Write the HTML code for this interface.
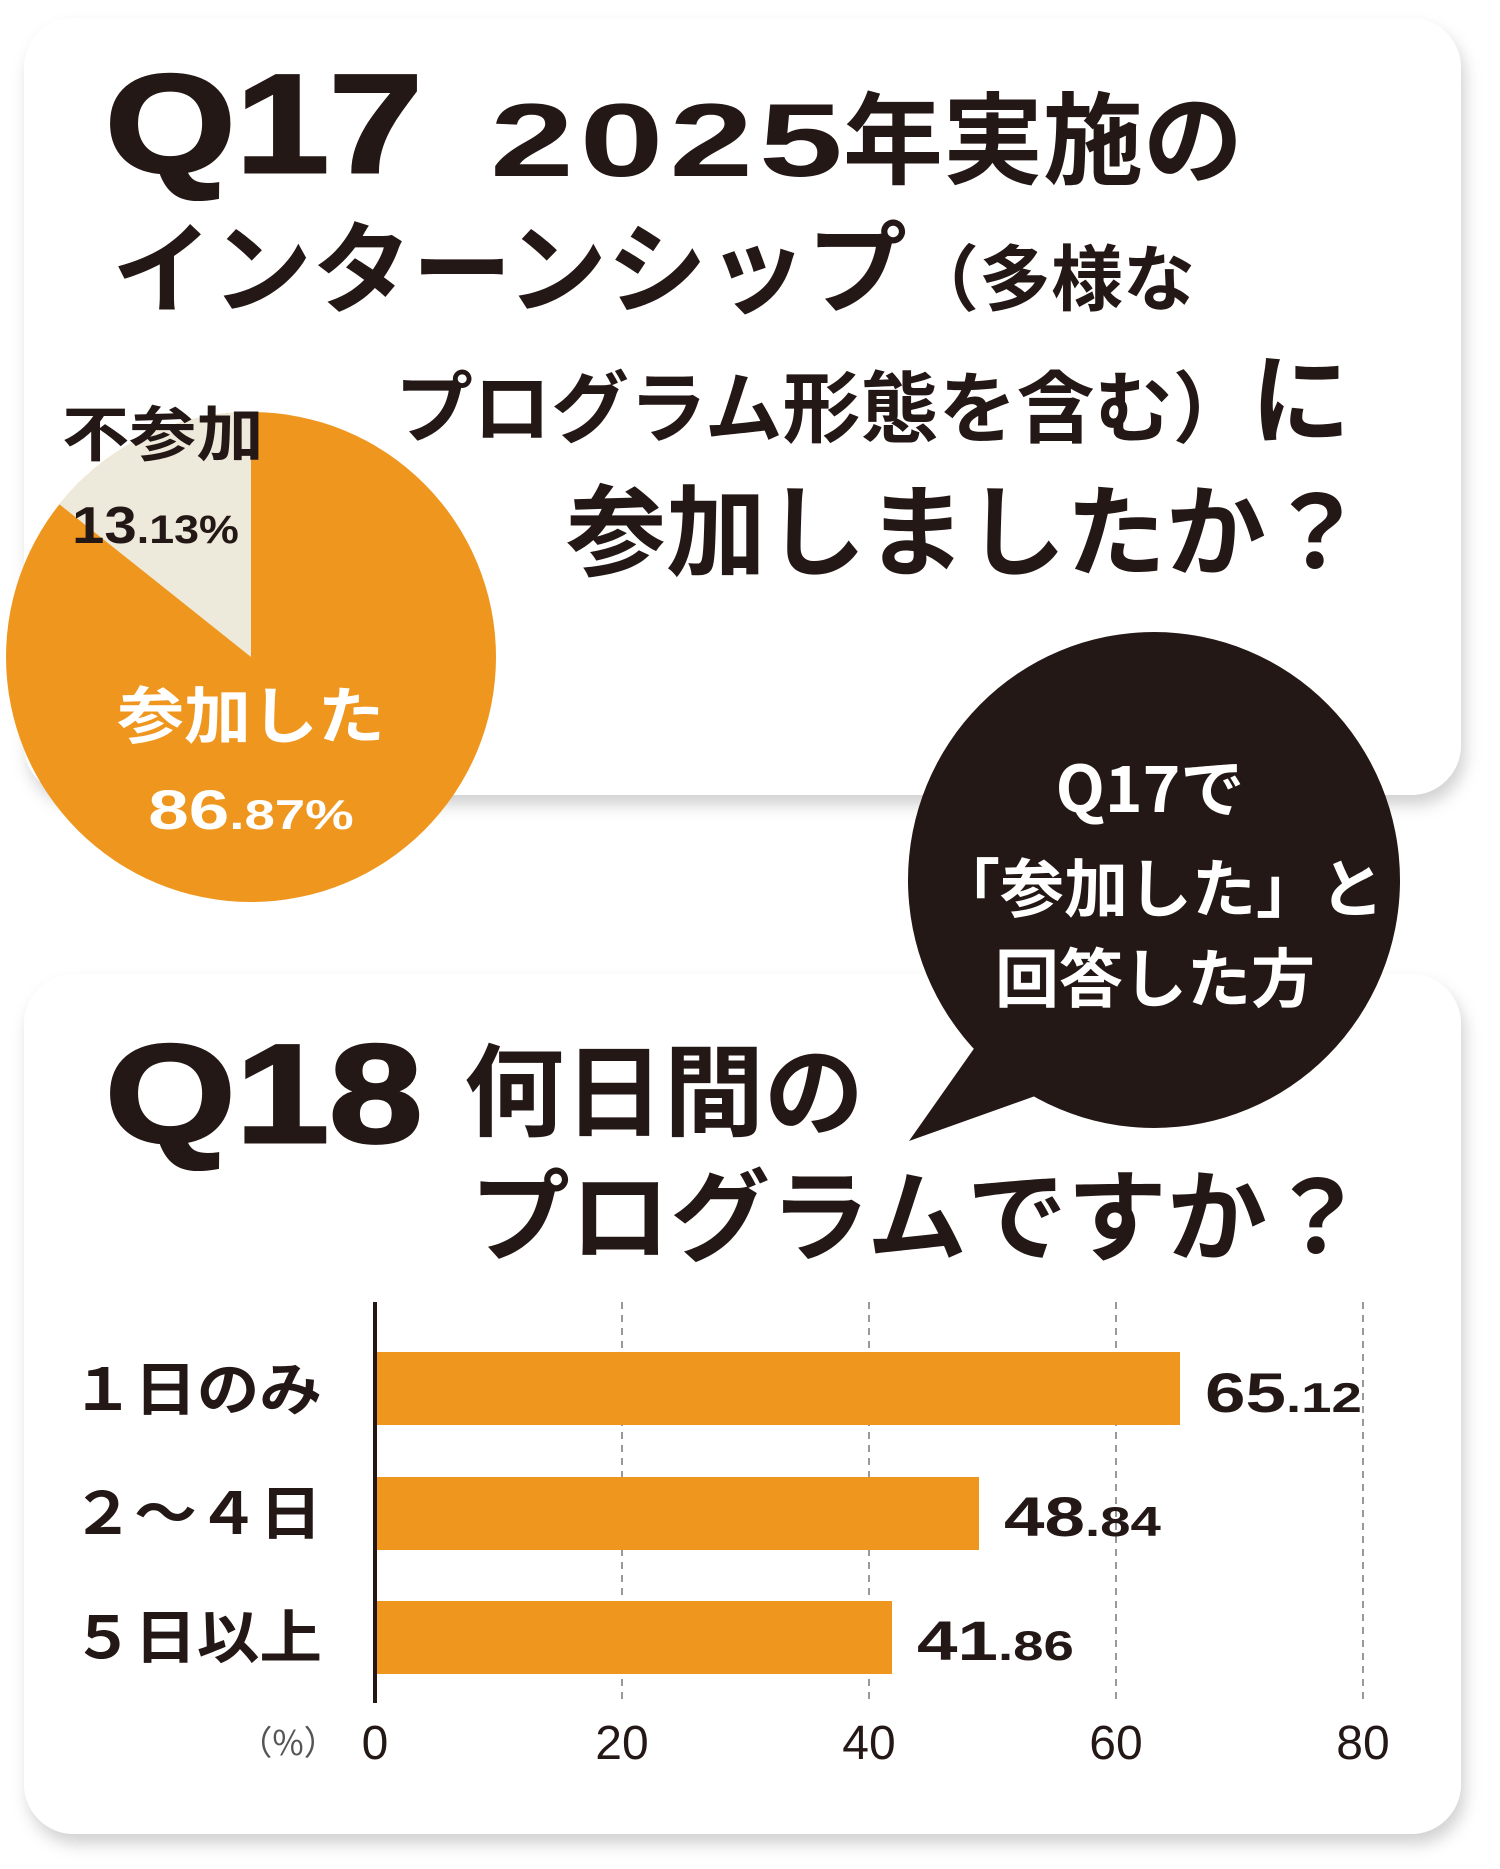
<!DOCTYPE html>
<html><head><meta charset="utf-8"><style>
html,body{margin:0;padding:0;background:#fff;}
svg{display:block;}
text{font-family:"Liberation Sans","Noto Sans CJK JP",sans-serif;font-weight:bold;}
.jp{font-family:"Noto Sans CJK JP","Liberation Sans",sans-serif;font-weight:bold;}
</style></head><body>
<svg width="1500" height="1869" viewBox="0 0 1500 1869" xmlns="http://www.w3.org/2000/svg">
<defs>
<filter id="sh" x="-5%" y="-5%" width="110%" height="115%"><feDropShadow dx="4" dy="10" stdDeviation="8" flood-color="#000" flood-opacity="0.18"/></filter>
</defs>
<rect width="1500" height="1869" fill="#fff"/>
<rect x="24" y="18" width="1437" height="777" rx="50" fill="#fff" filter="url(#sh)"/>
<rect x="24" y="974" width="1437" height="860" rx="50" fill="#fff" filter="url(#sh)"/>

<circle cx="251" cy="657" r="245" fill="#ef961f"/>
<path d="M251,657 L251,412 A245,245 0 0 0 59.4,504.3 Z" fill="#ede9db"/>
<text class="jp" x="62" y="456" font-size="60" fill="#231815" transform="translate(62 0) scale(1.12 1) translate(-62 0)">不参加</text>
<text x="72" y="543" font-size="52" fill="#231815" transform="translate(72 0) scale(1.12 1) translate(-72 0)">13<tspan font-size="40">.13%</tspan></text>
<text class="jp" x="251" y="738" font-size="62" fill="#fff" text-anchor="middle" transform="translate(251 0) scale(1.08 1) translate(-251 0)">参加した</text>
<text x="251" y="829" font-size="56" fill="#fff" text-anchor="middle" transform="translate(251 0) scale(1.3 1) translate(-251 0)">86<tspan font-size="42">.87%</tspan></text>

<text x="105" y="172" font-size="140" fill="#231815" transform="translate(105 0) scale(1.2 1) translate(-105 0)" stroke="#231815" stroke-width="3">Q17</text>
<text x="490" y="176" font-size="104" fill="#231815" transform="translate(490 0) scale(1.45 1) translate(-490 0)" letter-spacing="4">2025</text>
<text class="jp" x="843" y="176" font-size="100" fill="#231815">年実施の</text>
<text class="jp" x="112" y="305" font-size="100" fill="#231815">インターンシップ<tspan font-size="72">（多様な</tspan></text>
<text class="jp" x="395" y="436" font-size="78" fill="#231815">プログラム形態を含む）<tspan font-size="100">に</tspan></text>
<text class="jp" x="566" y="568" font-size="100" fill="#231815">参加しましたか？</text>

<path d="M909,1141 L980,1040 L1080,1080 Z" fill="#231815"/>
<ellipse cx="1154" cy="880" rx="246" ry="248" fill="#231815"/>
<text class="jp" x="1150" y="812" font-size="64" fill="#fff" text-anchor="middle">Q17で</text>
<text class="jp" x="1160" y="912" font-size="64" fill="#fff" text-anchor="middle">「参加した」と</text>
<text class="jp" x="1155" y="1002" font-size="64" fill="#fff" text-anchor="middle">回答した方</text>

<text x="105" y="1142" font-size="140" fill="#231815" transform="translate(105 0) scale(1.2 1) translate(-105 0)" stroke="#231815" stroke-width="3">Q18</text>
<text class="jp" x="464" y="1128" font-size="100" fill="#231815">何日間の</text>
<text class="jp" x="470" y="1253" font-size="100" fill="#231815">プログラムですか？</text>

<g stroke="#999" stroke-width="2" stroke-dasharray="7,6">
<line x1="622" y1="1302" x2="622" y2="1703"/>
<line x1="869" y1="1302" x2="869" y2="1703"/>
<line x1="1116" y1="1302" x2="1116" y2="1703"/>
<line x1="1363" y1="1302" x2="1363" y2="1703"/>
</g>
<rect x="375" y="1352" width="805" height="73" fill="#ef961f"/>
<rect x="375" y="1477" width="604" height="73" fill="#ef961f"/>
<rect x="375" y="1601" width="517" height="73" fill="#ef961f"/>
<line x1="375" y1="1302" x2="375" y2="1703" stroke="#231815" stroke-width="4"/>
<text class="jp" x="322" y="1410" font-size="58" fill="#231815" text-anchor="end" transform="translate(322 0) scale(1.08 1) translate(-322 0)">１日のみ</text>
<text class="jp" x="322" y="1534" font-size="58" fill="#231815" text-anchor="end" transform="translate(322 0) scale(1.08 1) translate(-322 0)">２～４日</text>
<text class="jp" x="322" y="1658" font-size="58" fill="#231815" text-anchor="end" transform="translate(322 0) scale(1.08 1) translate(-322 0)">５日以上</text>
<text x="1205" y="1412" font-size="56" fill="#231815" transform="translate(1205 0) scale(1.3 1) translate(-1205 0)">65<tspan font-size="42">.12</tspan></text>
<text x="1004" y="1536" font-size="56" fill="#231815" transform="translate(1004 0) scale(1.3 1) translate(-1004 0)">48<tspan font-size="42">.84</tspan></text>
<text x="917" y="1660" font-size="56" fill="#231815" transform="translate(917 0) scale(1.3 1) translate(-917 0)">41<tspan font-size="42">.86</tspan></text>
<g font-size="48" fill="#231815" text-anchor="middle">
<text x="375" y="1759" style="font-weight:normal">0</text>
<text x="622" y="1759" style="font-weight:normal">20</text>
<text x="869" y="1759" style="font-weight:normal">40</text>
<text x="1116" y="1759" style="font-weight:normal">60</text>
<text x="1363" y="1759" style="font-weight:normal">80</text>
</g>
<text class="jp" x="288" y="1755" font-size="34" fill="#555" text-anchor="middle" style="font-weight:normal">（%）</text>
</svg>
</body></html>
